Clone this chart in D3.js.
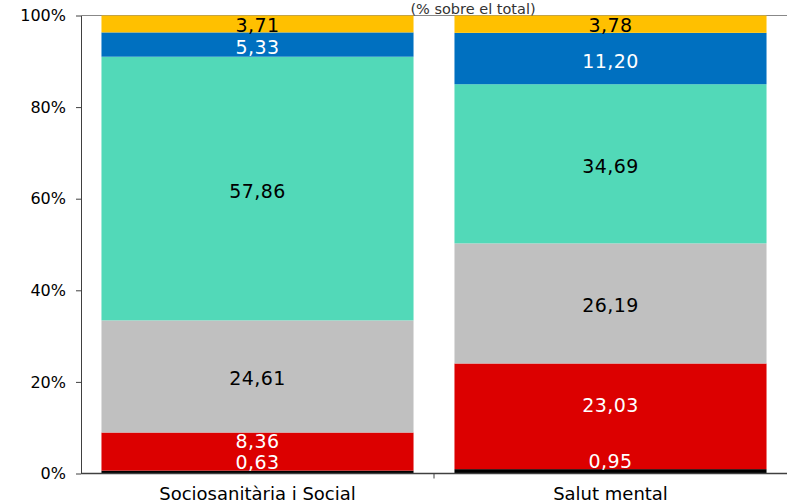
<!DOCTYPE html>
<html lang="ca">
<head>
<meta charset="UTF-8">
<title>% sobre el total</title>
<script src="https://d3js.org/d3.v7.min.js"></script>
<style>
  body { margin: 0; background: #fff; }
  text { font-family: "DejaVu Sans", Verdana, sans-serif; }
</style>
</head>
<body>
<svg id="chart"></svg>
<script>
// Data
const categories = ["Sociosanitària i Social", "Salut mental"];
const seriesNames = ["s1", "s2", "s3", "s4", "s5", "s6"]; // bottom to top
const valuesSocial = [0.63, 8.36, 24.61, 57.86, 5.33, 3.71];
const valuesMental = [0.95, 23.03, 26.19, 34.69, 11.20, 3.78];
const yTicks = [0, 0.2, 0.4, 0.6, 0.8, 1];

// Style per series
const colors = ["#000000", "#DC0000", "#C0C0C0", "#52D9B8", "#0070C0", "#FFC000"];
const labelColors = ["#fff", "#fff", "#000", "#000", "#fff", "#000"];
const labelShift = [-10, -11, 2, 2, 2, 1];

const width = 787, height = 504;
const margin = { top: 15.5, right: 0, bottom: 30.5, left: 81 };

const svg = d3.select("#chart").attr("width", width).attr("height", height);

const rows = categories.map((c, i) => {
  const vals = i === 0 ? valuesSocial : valuesMental;
  const r = { cat: c };
  seriesNames.forEach((s, j) => r[s] = vals[j]);
  return r;
});

const stack = d3.stack().keys(seriesNames).offset(d3.stackOffsetExpand);
const layers = stack(rows);

const x = d3.scaleBand()
  .domain(categories)
  .range([margin.left, width - margin.right])
  .paddingInner(0.116)
  .paddingOuter(0.058);

const y = d3.scaleLinear()
  .domain([0, 1])
  .range([height - margin.bottom, margin.top]);

// top border line
svg.append("line")
  .attr("x1", margin.left).attr("x2", width)
  .attr("y1", y(1)).attr("y2", y(1))
  .attr("stroke", "#888").attr("stroke-width", 1);

// bars
const g = svg.append("g");
layers.forEach((layer, li) => {
  g.selectAll(null)
    .data(layer)
    .join("rect")
    .attr("x", d => x(d.data.cat))
    .attr("width", x.bandwidth())
    .attr("y", d => y(d[1]))
    .attr("height", d => y(d[0]) - y(d[1]))
    .attr("fill", colors[li]);
});

// labels
layers.forEach((layer, li) => {
  g.selectAll(null)
    .data(layer)
    .join("text")
    .attr("x", d => x(d.data.cat) + x.bandwidth() / 2)
    .attr("y", d => (y(d[0]) + y(d[1])) / 2 + labelShift[li])
    .attr("text-anchor", "middle")
    .attr("dominant-baseline", "central")
    .attr("font-size", "19px")
    .attr("letter-spacing", "0.4px")
    .attr("fill", labelColors[li])
    .text(d => d3.format(".2f")(d.data[layer.key]).replace(".", ","));
});

// y axis
const yAxis = svg.append("g")
  .attr("transform", `translate(${margin.left},0)`)
  .call(d3.axisLeft(y).tickValues(yTicks).tickFormat(d3.format(".0%")).tickSize(5).tickSizeOuter(0));
yAxis.select(".domain").attr("stroke", "#404040");
yAxis.selectAll(".tick line").attr("stroke", "#404040");
yAxis.selectAll(".tick text")
  .attr("font-size", "16px")
  .attr("font-family", "DejaVu Sans, Verdana, sans-serif")
  .attr("fill", "#000")
  .attr("x", -15);

// x axis
const xAxisG = svg.append("g")
  .attr("transform", `translate(0,${y(0)})`);
xAxisG.append("line")
  .attr("x1", margin.left).attr("x2", width)
  .attr("stroke", "#404040").attr("stroke-width", 1.5);
xAxisG.selectAll(".sep")
  .data(categories.slice(1))
  .join("line")
  .attr("x1", d => x(d) - x.step() * x.paddingInner() / 2)
  .attr("x2", d => x(d) - x.step() * x.paddingInner() / 2)
  .attr("y1", 0).attr("y2", 5)
  .attr("stroke", "#404040");
xAxisG.selectAll(".cat")
  .data(categories)
  .join("text")
  .attr("x", d => x(d) + x.bandwidth() / 2)
  .attr("y", 26)
  .attr("text-anchor", "middle")
  .attr("font-size", "18px")
  .attr("fill", "#000")
  .text(d => d);

// subtitle
svg.append("text")
  .attr("x", 473)
  .attr("y", 14)
  .attr("text-anchor", "middle")
  .attr("font-size", "14.5px")
  .attr("fill", "#333")
  .text("(% sobre el total)");
</script>
</body>
</html>
